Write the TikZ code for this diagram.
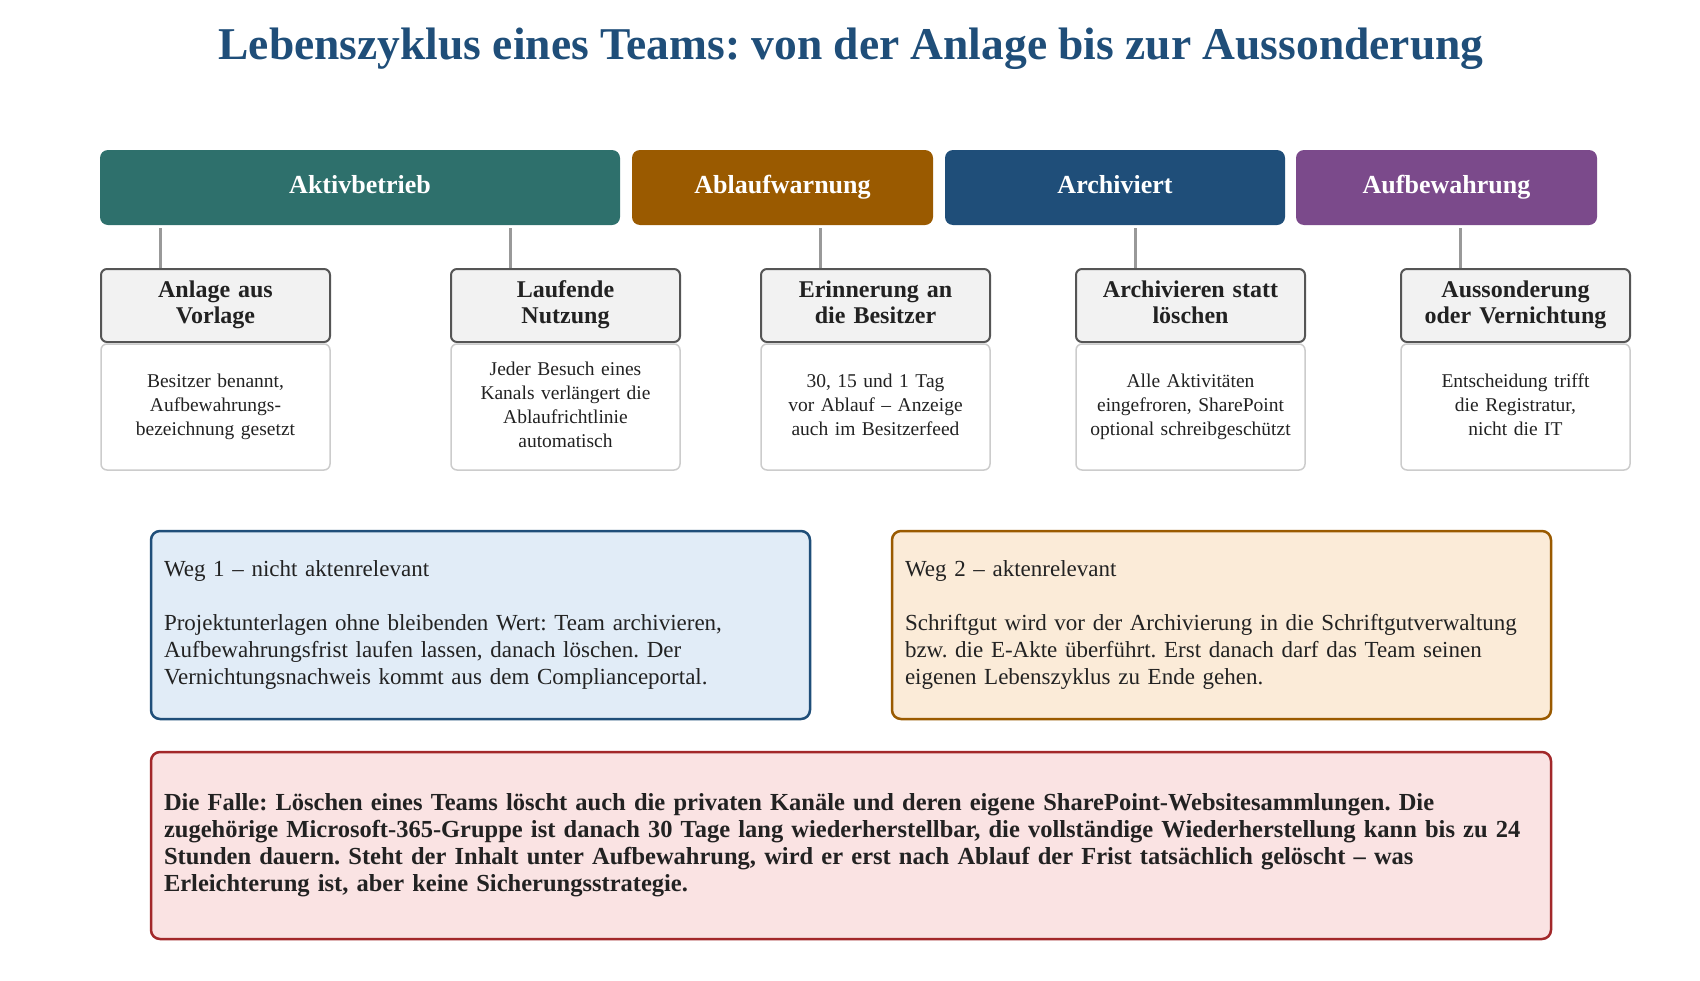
\documentclass[tikz,border=0pt]{standalone}
\usepackage{fontspec}
\setmainfont{Liberation Serif}
\frenchspacing
\usetikzlibrary{calc}
\definecolor{cTitle}{HTML}{1F4E79}
\definecolor{cTeal}{HTML}{2E706C}
\definecolor{cBrown}{HTML}{9A5A00}
\definecolor{cBlue}{HTML}{1F4E79}
\definecolor{cPurple}{HTML}{7B4A8B}
\definecolor{cStepFill}{HTML}{F2F2F2}
\definecolor{cStepDraw}{HTML}{555555}
\definecolor{cDescDraw}{HTML}{CCCCCC}
\definecolor{cConn}{HTML}{999999}
\definecolor{cText}{HTML}{222222}
\definecolor{cW1Fill}{HTML}{E1ECF7}
\definecolor{cW2Fill}{HTML}{FBEBD8}
\definecolor{cFFill}{HTML}{FAE3E3}
\definecolor{cFDraw}{HTML}{A2282A}
\begin{document}
\begin{tikzpicture}[x=1pt,y=-1pt,
  phase/.style={rounded corners=8pt, minimum height=75pt, inner sep=0pt, text=white,
    font=\fontsize{26}{30}\selectfont\bfseries, execute at begin node=\strut},
  stepbox/.style={draw=cStepDraw, line width=2pt, fill=cStepFill, rounded corners=6pt,
    minimum width=229pt, minimum height=73pt, text width=215pt, inner xsep=7pt,
    align=center, text=cText, font=\fontsize{24}{26}\selectfont\bfseries,
    execute at begin node=\strut, execute at end node=\strut},
  descbox/.style={draw=cDescDraw, line width=1.5pt, fill=white, rounded corners=6pt,
    minimum width=229pt, minimum height=126pt, text width=215pt, inner xsep=7pt,
    align=center, text=cText, font=\fontsize{19.5}{24}\selectfont,
    execute at begin node=\strut, execute at end node=\strut},
  conn/.style={draw=cConn, line width=3pt},
  wegbox/.style={rounded corners=9pt, line width=2.5pt,
    inner xsep=13pt, align=left, text=cText,
    execute at begin node=\strut, execute at end node=\strut},
]
\useasboundingbox (0,0) rectangle (1700,980);

\node[text=cTitle, font=\fontsize{45.5}{52}\selectfont\bfseries] (title) at (851,49)
  {Lebenszyklus eines Teams: von der Anlage bis zur Aussonderung};

% phase headers
\node[phase, fill=cTeal, minimum width=520pt] (hA) at (360,187.5) {Aktivbetrieb};
\node[phase, fill=cBrown, minimum width=301pt] (hB) at (782.5,187.5) {Ablaufwarnung};
\node[phase, fill=cBlue, minimum width=340pt] (hC) at (1115,187.5) {Archiviert};
\node[phase, fill=cPurple, minimum width=301pt] (hD) at (1446.5,187.5) {Aufbewahrung};

% step boxes
\node[stepbox] (s1) at (215.5,305.5) {Anlage aus\\Vorlage};
\node[stepbox] (s2) at (565.5,305.5) {Laufende\\Nutzung};
\node[stepbox] (s3) at (875.5,305.5) {Erinnerung an\\die Besitzer};
\node[stepbox] (s4) at (1190.5,305.5) {Archivieren statt\\löschen};
\node[stepbox] (s5) at (1515.5,305.5) {Aussonderung\\oder Vernichtung};

% description boxes
\node[descbox] (d1) at (215.5,407) {Besitzer benannt,\\Aufbewahrungs-\\bezeichnung gesetzt};
\node[descbox] (d2) at (565.5,407) {Jeder Besuch eines\\Kanals verlängert die\\Ablaufrichtlinie\\automatisch};
\node[descbox] (d3) at (875.5,407) {30, 15 und 1 Tag\\vor Ablauf – Anzeige\\auch im Besitzerfeed};
\node[descbox] (d4) at (1190.5,407) {Alle Aktivitäten\\eingefroren, SharePoint\\optional schreibgeschützt};
\node[descbox] (d5) at (1515.5,407) {Entscheidung trifft\\die Registratur,\\nicht die IT};

% connectors
\foreach \h/\s in {hA/s1, hA/s2, hB/s3, hC/s4, hD/s5}{
  \coordinate (c\s) at ($(\s.north west)+(60,0)$);
  \draw[conn] ($(c\s |- \h.south)+(0,3)$) -- (c\s);
}

% path boxes
\node[wegbox, draw=cBlue, fill=cW1Fill, minimum width=659pt, minimum height=188pt,
  text width=633pt, font=\fontsize{23}{27}\selectfont] (w1) at (480.5,625)
  {Weg 1 – nicht aktenrelevant\\[27pt]
   Projektunterlagen ohne bleibenden Wert: Team archivieren,\\
   Aufbewahrungsfrist laufen lassen, danach löschen. Der\\
   Vernichtungsnachweis kommt aus dem Complianceportal.};
\node[wegbox, draw=cBrown, fill=cW2Fill, minimum width=659pt, minimum height=188pt,
  text width=633pt, font=\fontsize{23}{27}\selectfont] (w2) at (1221.5,625)
  {Weg 2 – aktenrelevant\\[27pt]
   Schriftgut wird vor der Archivierung in die Schriftgutverwaltung\\
   bzw. die E-Akte überführt. Erst danach darf das Team seinen\\
   eigenen Lebenszyklus zu Ende gehen.};

\node[wegbox, draw=cFDraw, fill=cFFill, minimum width=1400pt, minimum height=187pt,
  text width=1374pt, font=\fontsize{24.5}{27}\selectfont\bfseries] (falle) at (851,845.5)
  {Die Falle: Löschen eines Teams löscht auch die privaten Kanäle und deren eigene SharePoint-Websitesammlungen. Die\\
   zugehörige Microsoft-365-Gruppe ist danach 30 Tage lang wiederherstellbar, die vollständige Wiederherstellung kann bis zu 24\\
   Stunden dauern. Steht der Inhalt unter Aufbewahrung, wird er erst nach Ablauf der Frist tatsächlich gelöscht – was\\
   Erleichterung ist, aber keine Sicherungsstrategie.};
\end{tikzpicture}
\end{document}
